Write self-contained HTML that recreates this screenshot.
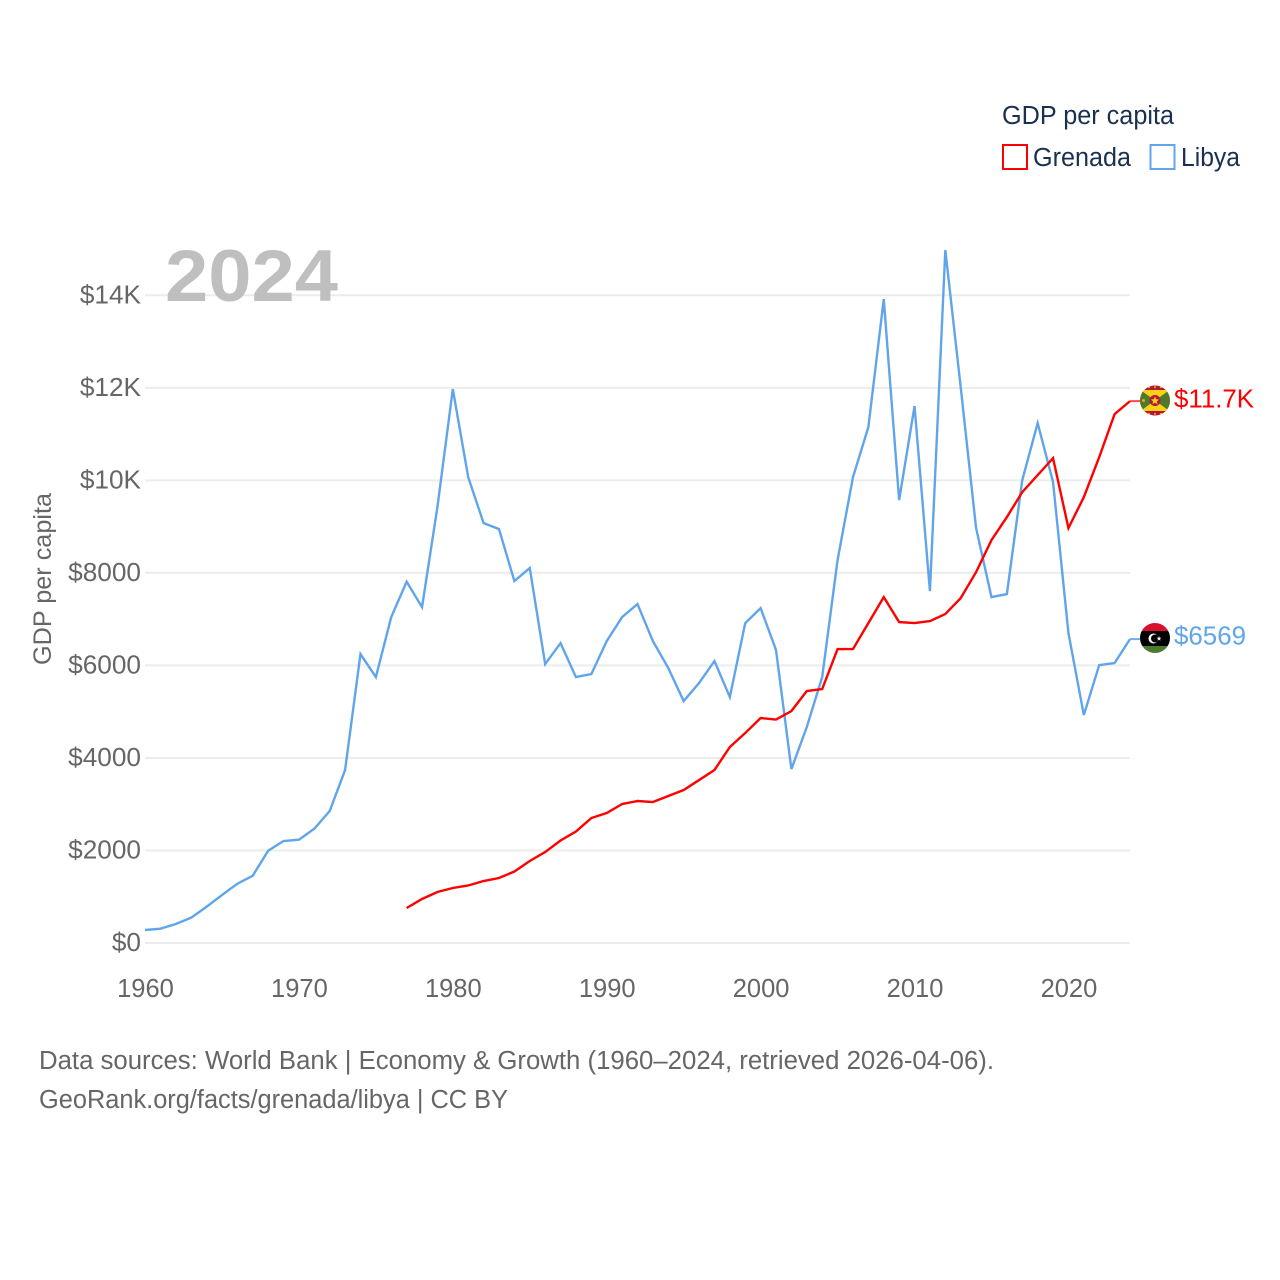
<!DOCTYPE html>
<html lang="en">
<head>
<meta charset="utf-8">
<title>GDP per capita: Grenada and Libya</title>
<style>
html,body{margin:0;padding:0;background:#fff;}
svg{display:block;font-family:"Liberation Sans",sans-serif;}
</style>
</head>
<body>
<svg id="chart" width="1280" height="1280" viewBox="0 0 1280 1280" xmlns="http://www.w3.org/2000/svg">
  <defs>
    <clipPath id="grenada-clip"><circle cx="1155" cy="400.5" r="15"/></clipPath>
    <clipPath id="libya-clip"><circle cx="1155" cy="638" r="15"/></clipPath>
  </defs>
  <g id="grid"></g>
  <g id="y-ticks"></g>
  <g id="x-ticks"></g>
  <text x="165" y="301" font-size="73" font-weight="700" fill="#bfbfbf" textLength="173" lengthAdjust="spacingAndGlyphs">2024</text>
  <text transform="translate(51 579) rotate(-90)" text-anchor="middle" font-size="25" fill="#666666" textLength="172" lengthAdjust="spacingAndGlyphs">GDP per capita</text>
  <g id="series"></g>

  <g>
    <text x="1002" y="124" font-size="25.5" fill="#1a3050" textLength="172" lengthAdjust="spacingAndGlyphs">GDP per capita</text>
    <g>
      <rect x="1003" y="145" width="24" height="24" fill="#fff" stroke="#ff0000" stroke-width="2"/>
      <text x="1033" y="166" font-size="25.5" fill="#1a3050" textLength="98" lengthAdjust="spacingAndGlyphs">Grenada</text>
    </g>
    <g>
      <rect x="1150.5" y="145" width="24" height="24" fill="#fff" stroke="#60a5ec" stroke-width="2"/>
      <text x="1181" y="166" font-size="25.5" fill="#1a3050" textLength="59" lengthAdjust="spacingAndGlyphs">Libya</text>
    </g>
  </g>

  <g clip-path="url(#grenada-clip)">
    <rect x="1140" y="385" width="30" height="31" fill="#b5173a"/>
    <rect x="1140" y="390" width="30" height="21" fill="#fcd116"/>
    <polygon points="1137,387.5 1155,400.5 1137,413.5" fill="#4f7a2b"/>
    <polygon points="1173,387.5 1155,400.5 1173,413.5" fill="#4f7a2b"/>
    <circle cx="1155" cy="400.5" r="5.5" fill="#b5173a"/>
    <polygon points="1155,396.5 1156.2,399.3 1159,399.5 1156.9,401.4 1157.5,404.3 1155,402.8 1152.5,404.3 1153.1,401.4 1151,399.5 1153.8,399.3" fill="#fcd116"/>
    <circle cx="1143.5" cy="400.5" r="1.5" fill="#e6a92c"/>
    <circle cx="1149" cy="387.2" r="0.9" fill="#fcd116"/>
    <circle cx="1155" cy="387.2" r="0.9" fill="#fcd116"/>
    <circle cx="1161" cy="387.2" r="0.9" fill="#fcd116"/>
    <circle cx="1149" cy="413.8" r="0.9" fill="#fcd116"/>
    <circle cx="1155" cy="413.8" r="0.9" fill="#fcd116"/>
    <circle cx="1161" cy="413.8" r="0.9" fill="#fcd116"/>
  </g>
  <g clip-path="url(#libya-clip)">
    <rect x="1140" y="623" width="30" height="8" fill="#d8102b"/>
    <rect x="1140" y="631" width="30" height="15" fill="#000000"/>
    <rect x="1140" y="646" width="30" height="7" fill="#4c7a30"/>
    <circle cx="1153.5" cy="638.5" r="5" fill="#ffffff"/>
    <circle cx="1155" cy="638.5" r="4" fill="#000000"/>
    <polygon points="1159,636 1159.6,637.8 1161.5,637.8 1160,638.9 1160.5,640.7 1159,639.6 1157.5,640.7 1158,638.9 1156.5,637.8 1158.4,637.8" fill="#ffffff"/>
  </g>
  <text x="1174" y="407.5" font-size="25.5" fill="#ff0000" textLength="80" lengthAdjust="spacingAndGlyphs">$11.7K</text>
  <text x="1174" y="644.5" font-size="25.5" fill="#60a5ec" textLength="72" lengthAdjust="spacingAndGlyphs">$6569</text>

  <g>
    <text x="39" y="1069" font-size="25.5" fill="#666666" textLength="955" lengthAdjust="spacingAndGlyphs">Data sources: World Bank | Economy &amp; Growth (1960–2024, retrieved 2026-04-06).</text>
    <text x="39" y="1108" font-size="25.5" fill="#666666" textLength="469" lengthAdjust="spacingAndGlyphs">GeoRank.org/facts/grenada/libya | CC BY</text>
  </g>
</svg>
<script>
const years = [1960,1961,1962,1963,1964,1965,1966,1967,1968,1969,1970,1971,1972,1973,1974,1975,1976,1977,1978,1979,1980,1981,1982,1983,1984,1985,1986,1987,1988,1989,1990,1991,1992,1993,1994,1995,1996,1997,1998,1999,2000,2001,2002,2003,2004,2005,2006,2007,2008,2009,2010,2011,2012,2013,2014,2015,2016,2017,2018,2019,2020,2021,2022,2023,2024];
const libyaValues = [281,309,411,547,784,1037,1281,1454,1995,2204,2232,2470,2853,3739,6245,5748,7045,7808,7261,9422,11972,10070,9076,8947,7823,8104,6029,6483,5748,5813,6526,7045,7326,6526,5943,5230,5619,6094,5316,6915,7239,6332,3760,4668,5748,8277,10070,11151,13917,9573,11605,7607,14976,12015,8968,7477,7542,10005,11237,9962,6699,4927,6008,6051,6569];
const grenadaValues = [null,null,null,null,null,null,null,null,null,null,null,null,null,null,null,null,null,756,951,1102,1189,1243,1340,1405,1545,1772,1966,2215,2410,2701,2809,3004,3069,3047,3177,3306,3522,3739,4236,4538,4862,4830,5014,5446,5489,6353,6353,6915,7477,6937,6915,6958,7110,7455,8017,8709,9206,9746,10113,10481,8968,9638,10502,11432,11713];
const yTickValues = [0,2000,4000,6000,8000,10000,12000,14000];
const yTickLabels = ['$0','$2000','$4000','$6000','$8000','$10K','$12K','$14K'];
const xTickValues = [1960,1970,1980,1990,2000,2010,2020];

const SVG_NS = 'http://www.w3.org/2000/svg';
function xScale(year) { return 145 + (year - 1960) * (1130 - 145) / (2024 - 1960); }
function yScale(value) { return 943 - value * (943 - 295.3) / 14000; }
function make(tag, attrs, parent) {
  const el = document.createElementNS(SVG_NS, tag);
  for (const k in attrs) el.setAttribute(k, attrs[k]);
  parent.appendChild(el);
  return el;
}
const gridGroup = document.getElementById('grid');
const yGroup = document.getElementById('y-ticks');
const xGroup = document.getElementById('x-ticks');
const seriesGroup = document.getElementById('series');

yTickValues.forEach(function (v, i) {
  const line = make('line', {x1: 145, x2: 1130, y1: yScale(v), y2: yScale(v), stroke: '#ececec', 'stroke-width': 2}, gridGroup);
  
  
  const label = make('text', {x: 141, y: yScale(v) + 8, 'text-anchor': 'end', 'font-size': 26.2, fill: '#666666'}, yGroup);
  
  
  label.textContent = yTickLabels[i];
});
xTickValues.forEach(function (year) {
  const label = make('text', {x: xScale(year) + 0.5, y: 997, 'text-anchor': 'middle', 'font-size': 25.5, fill: '#666666'}, xGroup);
  
  
  label.textContent = year;
});
function linePoints(values) {
  const pts = [];
  values.forEach(function (v, i) {
    if (v !== null) pts.push(xScale(years[i]).toFixed(2) + ',' + yScale(v).toFixed(2));
  });
  return pts.join(' ');
}
function leaderPoints(values) {
  const last = values[values.length - 1];
  const x = xScale(years[years.length - 1]);
  return x + ',' + yScale(last) + ' ' + (x + 10) + ',' + yScale(last);
}
const libyaLine = make('polyline', {points: linePoints(libyaValues), fill: 'none', stroke: '#60a5ec', 'stroke-width': 2.4, 'stroke-linejoin': 'miter'}, seriesGroup);


const grenadaLine = make('polyline', {points: linePoints(grenadaValues), fill: 'none', stroke: '#ff0000', 'stroke-width': 2.4, 'stroke-linejoin': 'miter'}, seriesGroup);


const libyaLeader = make('polyline', {points: leaderPoints(libyaValues), fill: 'none', stroke: '#60a5ec', 'stroke-width': 2, opacity: 0.9}, seriesGroup);


const grenadaLeader = make('polyline', {points: leaderPoints(grenadaValues), fill: 'none', stroke: '#ff0000', 'stroke-width': 2, opacity: 0.7}, seriesGroup);


</script>
</body>
</html>
